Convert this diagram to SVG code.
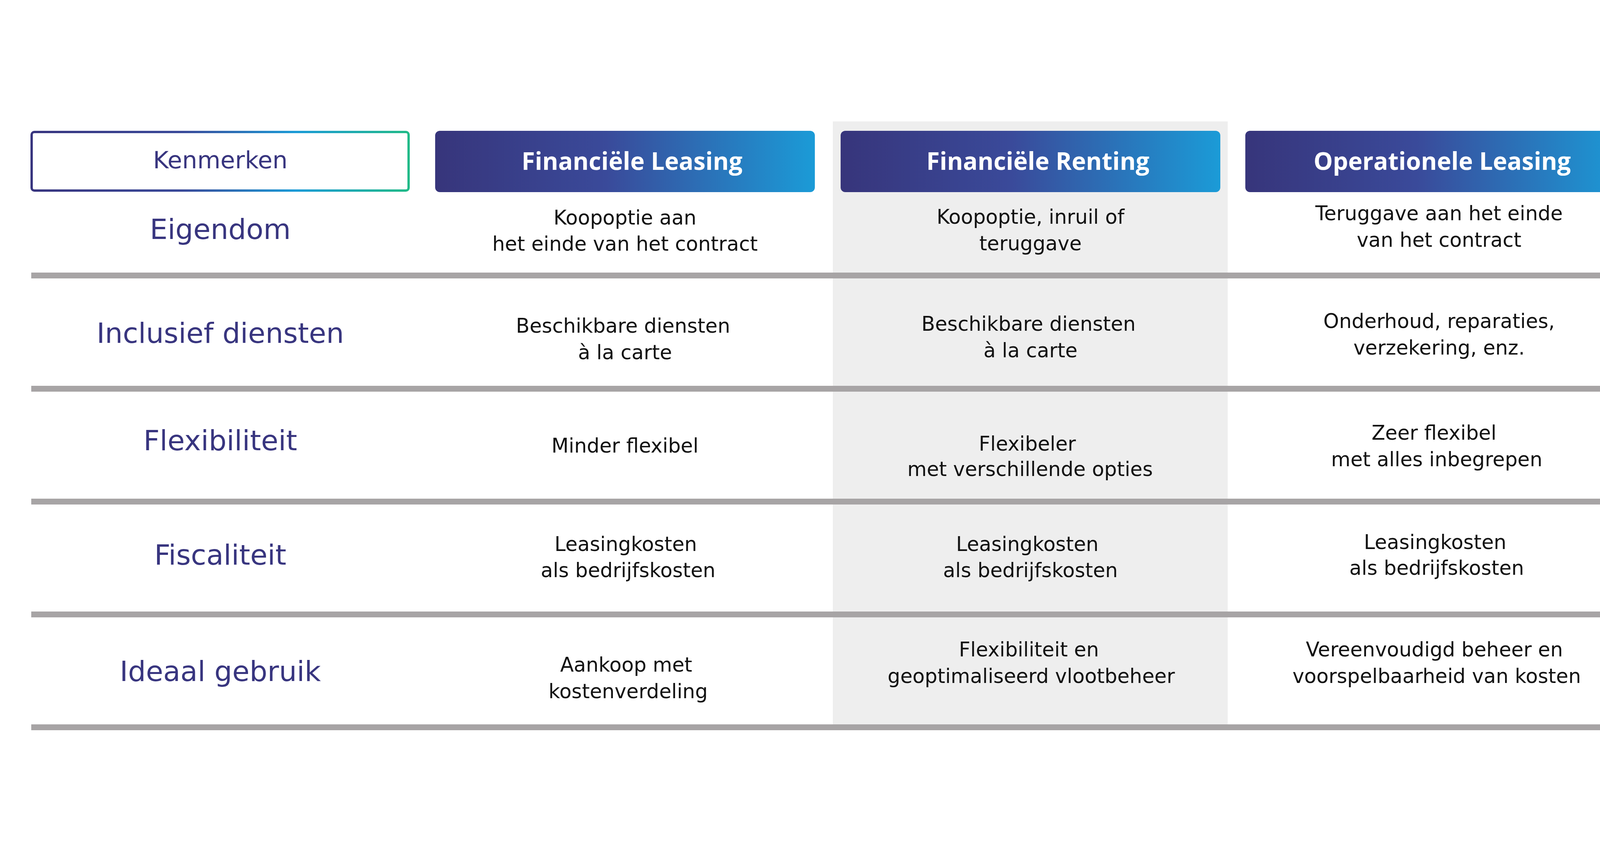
<svg xmlns="http://www.w3.org/2000/svg" width="4219" height="2187" viewBox="0 0 4219 2187">
  <defs>
    <linearGradient id="hdr" x1="0" y1="0" x2="1" y2="0">
      <stop offset="0" stop-color="#37357b"/>
      <stop offset="0.45" stop-color="#3a4a9a"/>
      <stop offset="1" stop-color="#1b9bd7"/>
    </linearGradient>
    <linearGradient id="brd" x1="0" y1="0" x2="1" y2="0">
      <stop offset="0" stop-color="#38357f"/>
      <stop offset="0.4" stop-color="#3a4a9a"/>
      <stop offset="0.7" stop-color="#1b9bd7"/>
      <stop offset="1" stop-color="#21ba88"/>
    </linearGradient>
  </defs>
  <style>
    .hdrbox { fill: url(#hdr); }
    .hdrtxt { font-family: "Open Sans", "Noto Sans", sans-serif; font-weight: 700; font-size: 62px; fill: #ffffff; text-anchor: middle; }
    .lbl { font-family: "DejaVu Sans", "Open Sans", sans-serif; font-size: 72px; fill: #38357f; text-anchor: middle; }
    .kenm { font-family: "DejaVu Sans", "Open Sans", sans-serif; font-size: 61px; fill: #38357f; text-anchor: middle; }
    .cell { font-family: "DejaVu Sans", "Open Sans", sans-serif; font-size: 51px; fill: #111111; text-anchor: middle; }
    .rule { fill: #a7a4a5; }
  </style>
  <rect x="0" y="0" width="4219" height="2187" fill="#ffffff"/>
  <rect id="highlight-column" x="2132" y="311" width="1011" height="1551" fill="#eeeeee"/>

  <g id="connectors">
    <rect class="rule" x="80" y="698" width="4086" height="15"/>
    <rect class="rule" x="80" y="988" width="4086" height="15"/>
    <rect class="rule" x="80" y="1277" width="4086" height="15"/>
    <rect class="rule" x="80" y="1566" width="4086" height="15"/>
    <rect class="rule" x="80" y="1855" width="4086" height="15"/>
  </g>

  <g id="header-kenmerken">
    <rect x="81" y="338" width="965" height="150" rx="7" fill="#ffffff" stroke="url(#brd)" stroke-width="6"/>
    <text class="kenm" x="564" y="431">Kenmerken</text>
  </g>
  <g id="header-financiele-leasing">
    <rect class="hdrbox" x="1114" y="335" width="972" height="157" rx="12"/>
    <text class="hdrtxt" x="1618" y="435">Financiële Leasing</text>
  </g>
  <g id="header-financiele-renting">
    <rect class="hdrbox" x="2152" y="335" width="972" height="157" rx="12"/>
    <text class="hdrtxt" x="2657" y="435">Financiële Renting</text>
  </g>
  <g id="header-operationele-leasing">
    <rect class="hdrbox" x="3188" y="335" width="972" height="157" rx="12"/>
    <text class="hdrtxt" x="3692" y="435">Operationele Leasing</text>
  </g>

  <g id="label-eigendom"><text class="lbl" x="564" y="612">Eigendom</text></g>
  <g id="label-inclusief-diensten"><text class="lbl" x="564" y="878">Inclusief diensten</text></g>
  <g id="label-flexibiliteit"><text class="lbl" x="564" y="1153">Flexibiliteit</text></g>
  <g id="label-fiscaliteit"><text class="lbl" x="564" y="1446">Fiscaliteit</text></g>
  <g id="label-ideaal-gebruik"><text class="lbl" x="564" y="1744">Ideaal gebruik</text></g>

  <g id="cell-fl-eigendom">
    <text class="cell" x="1600" y="575">Koopoptie aan</text>
    <text class="cell" x="1600" y="642">het einde van het contract</text>
  </g>
  <g id="cell-fl-diensten">
    <text class="cell" x="1595" y="852">Beschikbare diensten</text>
    <text class="cell" x="1600" y="920">à la carte</text>
  </g>
  <g id="cell-fl-flexibiliteit">
    <text class="cell" x="1600" y="1159">Minder flexibel</text>
  </g>
  <g id="cell-fl-fiscaliteit">
    <text class="cell" x="1602" y="1411">Leasingkosten</text>
    <text class="cell" x="1608" y="1478">als bedrijfskosten</text>
  </g>
  <g id="cell-fl-gebruik">
    <text class="cell" x="1603" y="1720">Aankoop met</text>
    <text class="cell" x="1608" y="1788">kostenverdeling</text>
  </g>

  <g id="cell-fr-eigendom">
    <text class="cell" x="2638" y="573">Koopoptie, inruil of</text>
    <text class="cell" x="2638" y="641">teruggave</text>
  </g>
  <g id="cell-fr-diensten">
    <text class="cell" x="2633" y="847">Beschikbare diensten</text>
    <text class="cell" x="2638" y="915">à la carte</text>
  </g>
  <g id="cell-fr-flexibiliteit">
    <text class="cell" x="2630" y="1154">Flexibeler</text>
    <text class="cell" x="2637" y="1219">met verschillende opties</text>
  </g>
  <g id="cell-fr-fiscaliteit">
    <text class="cell" x="2630" y="1411">Leasingkosten</text>
    <text class="cell" x="2638" y="1478">als bedrijfskosten</text>
  </g>
  <g id="cell-fr-gebruik">
    <text class="cell" x="2634" y="1681">Flexibiliteit en</text>
    <text class="cell" x="2640" y="1749">geoptimaliseerd vlootbeheer</text>
  </g>

  <g id="cell-ol-eigendom">
    <text class="cell" x="3684" y="564">Teruggave aan het einde</text>
    <text class="cell" x="3684" y="632">van het contract</text>
  </g>
  <g id="cell-ol-diensten">
    <text class="cell" x="3684" y="840">Onderhoud, reparaties,</text>
    <text class="cell" x="3684" y="908">verzekering, enz.</text>
  </g>
  <g id="cell-ol-flexibiliteit">
    <text class="cell" x="3671" y="1126">Zeer flexibel</text>
    <text class="cell" x="3678" y="1194">met alles inbegrepen</text>
  </g>
  <g id="cell-ol-fiscaliteit">
    <text class="cell" x="3674" y="1406">Leasingkosten</text>
    <text class="cell" x="3678" y="1472">als bedrijfskosten</text>
  </g>
  <g id="cell-ol-gebruik">
    <text class="cell" x="3672" y="1681">Vereenvoudigd beheer en</text>
    <text class="cell" x="3678" y="1749">voorspelbaarheid van kosten</text>
  </g>
</svg>
